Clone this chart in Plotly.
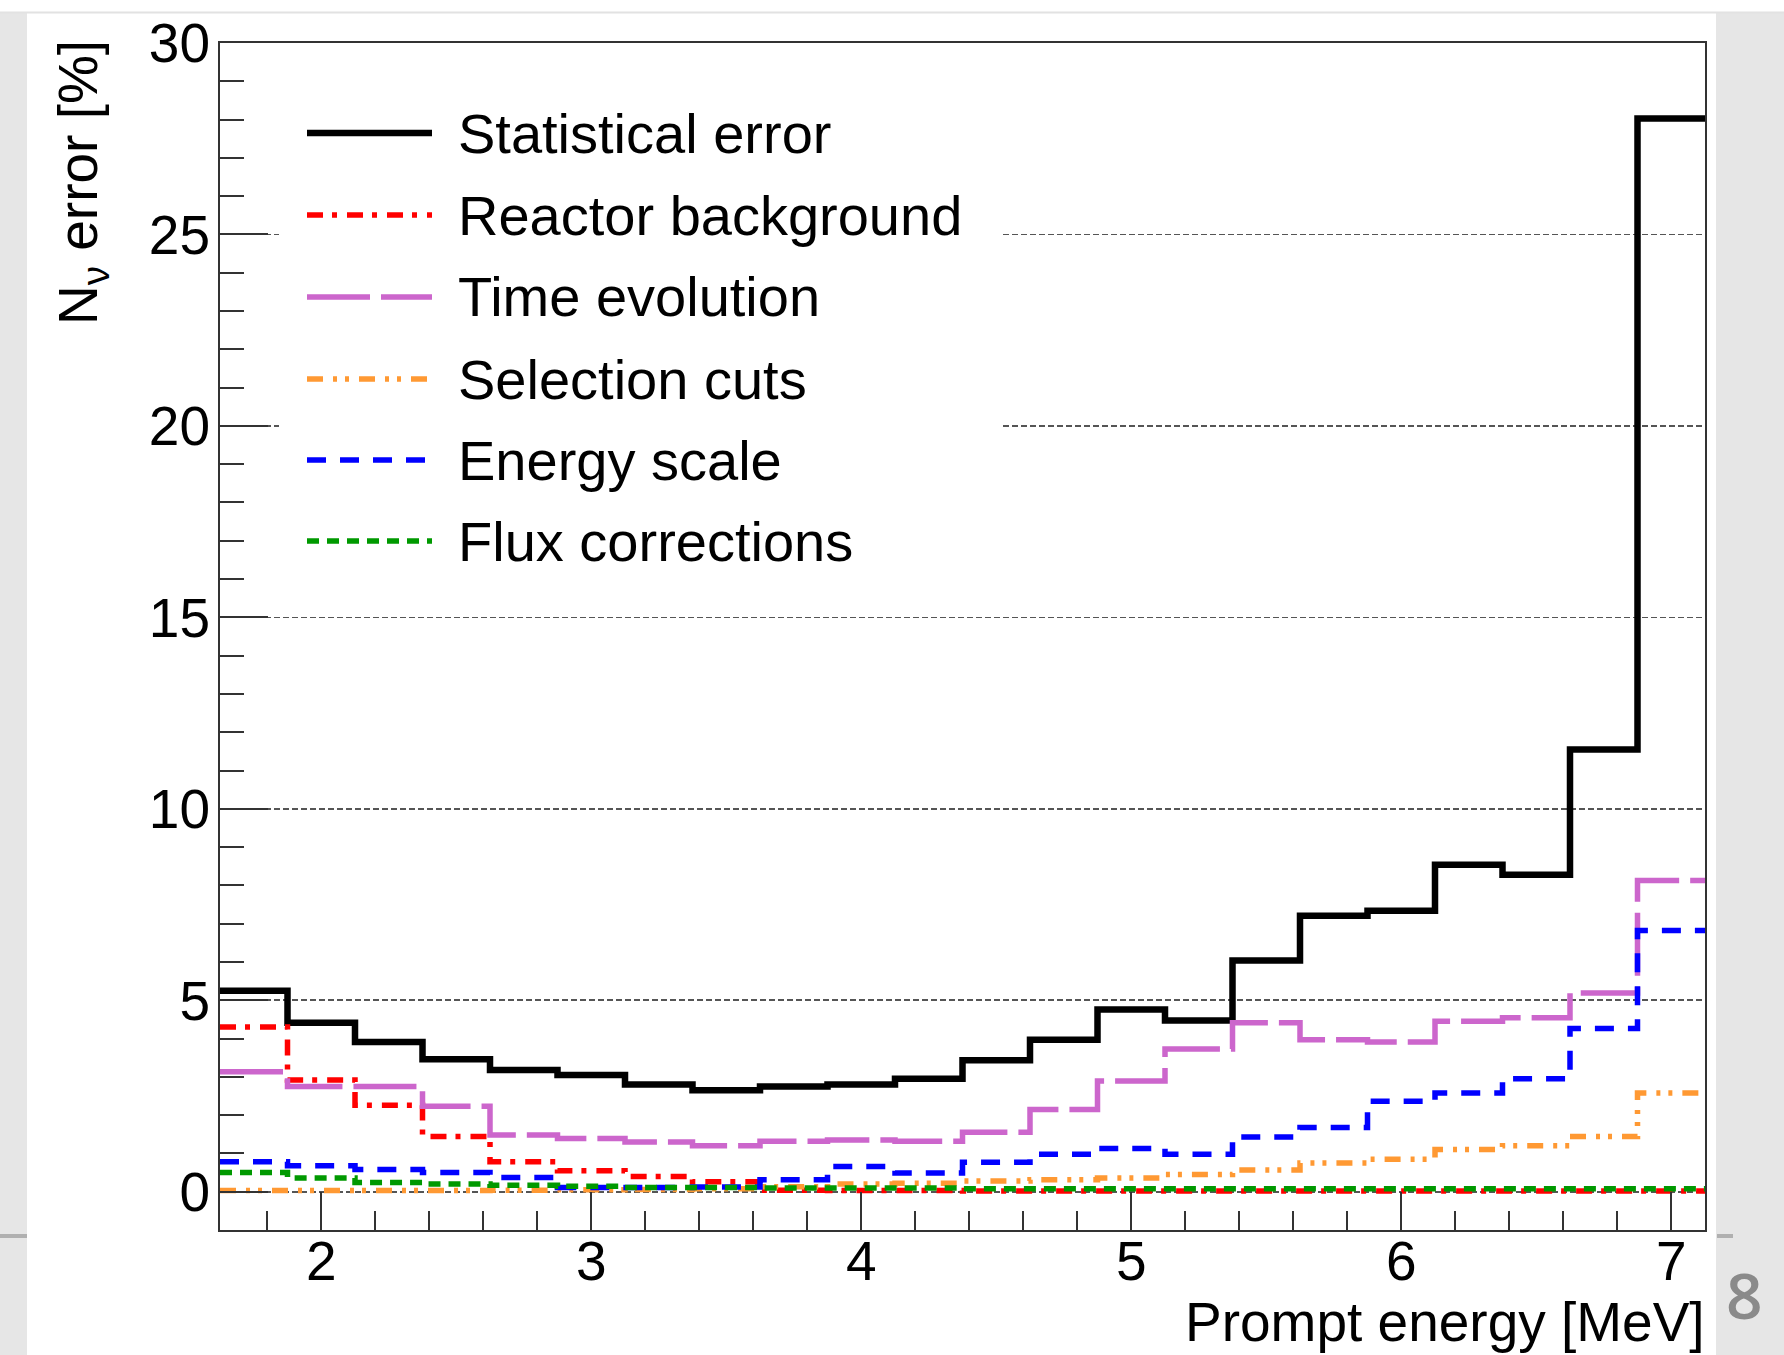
import plotly.graph_objects as go

# ---------------- data ----------------
energy_edges = [1.625, 1.875, 2.125, 2.375, 2.625, 2.875, 3.125, 3.375, 3.625, 3.875, 4.125, 4.375,
                4.625, 4.875, 5.125, 5.375, 5.625, 5.875, 6.125, 6.375, 6.625, 6.875, 7.125]

statistical_error = [5.25, 4.41, 3.91, 3.46, 3.18, 3.05, 2.80, 2.65, 2.75, 2.80, 2.95, 3.43,
                     3.97, 4.76, 4.47, 6.04, 7.21, 7.34, 8.54, 8.28, 11.55, 28.03]
reactor_background = [4.30, 2.92, 2.26, 1.44, 0.78, 0.55, 0.40, 0.26, 0.04, 0.03, 0.03, 0.02,
                      0.02, 0.02, 0.02, 0.02, 0.02, 0.02, 0.02, 0.02, 0.02, 0.02]
time_evolution = [3.13, 2.75, 2.75, 2.23, 1.48, 1.39, 1.30, 1.20, 1.32, 1.35, 1.32, 1.55,
                  2.15, 2.89, 3.73, 4.41, 3.97, 3.91, 4.45, 4.54, 5.19, 8.13]
selection_cuts = [0.03, 0.03, 0.03, 0.03, 0.04, 0.05, 0.06, 0.08, 0.13, 0.20, 0.22, 0.28,
                  0.31, 0.36, 0.45, 0.57, 0.75, 0.85, 1.10, 1.20, 1.44, 2.58]
energy_scale = [0.78, 0.68, 0.58, 0.50, 0.37, 0.11, 0.11, 0.12, 0.31, 0.66, 0.49, 0.77,
                0.98, 1.13, 0.98, 1.43, 1.68, 2.36, 2.58, 2.95, 4.26, 6.82]
flux_corrections = [0.50, 0.36, 0.24, 0.20, 0.17, 0.14, 0.11, 0.11, 0.10, 0.10, 0.10, 0.08,
                    0.08, 0.08, 0.08, 0.08, 0.08, 0.08, 0.08, 0.08, 0.08, 0.08]

series_names = ["Statistical error", "Reactor background", "Time evolution",
                "Selection cuts", "Energy scale", "Flux corrections"]
series_values = [statistical_error, reactor_background, time_evolution,
                 selection_cuts, energy_scale, flux_corrections]

x_tick_values = [2, 3, 4, 5, 6, 7]
y_tick_values = [0, 5, 10, 15, 20, 25, 30]

x_title = "Prompt energy [MeV]"
y_title = "N<sub>ν</sub> error [%]"
page_number = "8"

# ---------------- styles ----------------
series_styles = [
    dict(color="#000000", width=6.5, dash="solid"),
    dict(color="#ff0000", width=5.5, dash="16px,9px,5px,10px"),
    dict(color="#cc66cc", width=5.5, dash="63px,11px"),
    dict(color="#ff9933", width=5.5, dash="16px,10px,4px,8px,4px,10px"),
    dict(color="#0000ff", width=5.5, dash="19px,14px"),
    dict(color="#009900", width=5.5, dash="12px,8px"),
]

W, H = 1784, 1355
L, R, T, B = 220, 1705, 43, 1230


def px_x(p):
    return (p - L) / (R - L)


def px_y(p):
    return (B - p) / (B - T)


FONT = "Liberation Sans, Arial, Helvetica, sans-serif"

fig = go.Figure()

for name, vals, st in zip(series_names, series_values, series_styles):
    fig.add_trace(go.Scatter(
        x=energy_edges,
        y=list(vals) + [vals[-1]],
        mode="lines",
        line=dict(color=st["color"], width=st["width"], dash=st["dash"], shape="hv"),
        name=name,
        showlegend=False,
        hoverinfo="skip",
    ))

axis_color = "#333333"
fig.update_xaxes(
    range=[energy_edges[0], energy_edges[-1]],
    tickmode="array", tickvals=x_tick_values,
    ticks="inside", ticklen=38, tickwidth=2, tickcolor=axis_color,
    minor=dict(dtick=0.2, tick0=0, ticks="inside", ticklen=19, tickwidth=2,
               tickcolor=axis_color, showgrid=False),
    showline=True, linecolor=axis_color, linewidth=2, mirror=True,
    showgrid=False, zeroline=False,
    tickfont=dict(family=FONT, size=55, color="black"),
    ticklabelstandoff=-18,
    automargin=False,
)
fig.update_yaxes(
    range=[-1, 30],
    tickmode="array", tickvals=y_tick_values,
    ticks="inside", ticklen=48, tickwidth=2, tickcolor=axis_color,
    minor=dict(dtick=1, tick0=0, ticks="inside", ticklen=24, tickwidth=2,
               tickcolor=axis_color, showgrid=False),
    showline=True, linecolor=axis_color, linewidth=2, mirror=True,
    showgrid=True, gridcolor="#555555", gridwidth=1.6, griddash="6px,3px",
    zeroline=False,
    tickfont=dict(family=FONT, size=55, color="black"),
    ticklabelstandoff=-3,
    automargin=False,
)

shapes = []
# page decoration: side strips, top line and small separators
shapes.append(dict(type="rect", xref="paper", yref="paper",
                   x0=px_x(0), x1=px_x(27), y0=px_y(H), y1=px_y(13),
                   fillcolor="#e6e6e6", line=dict(width=0), layer="below"))
shapes.append(dict(type="rect", xref="paper", yref="paper",
                   x0=px_x(1716), x1=px_x(W), y0=px_y(H), y1=px_y(13),
                   fillcolor="#e6e6e6", line=dict(width=0), layer="below"))
shapes.append(dict(type="line", xref="paper", yref="paper",
                   x0=px_x(0), x1=px_x(W), y0=px_y(12.5), y1=px_y(12.5),
                   line=dict(color="#e2e2e2", width=2), layer="below"))
shapes.append(dict(type="line", xref="paper", yref="paper",
                   x0=px_x(0), x1=px_x(27), y0=px_y(1236), y1=px_y(1236),
                   line=dict(color="#b0b0b0", width=4), layer="below"))
shapes.append(dict(type="line", xref="paper", yref="paper",
                   x0=px_x(1717), x1=px_x(1733), y0=px_y(1236), y1=px_y(1236),
                   line=dict(color="#b0b0b0", width=4), layer="below"))

# legend box (white, hides grid lines)
shapes.append(dict(type="rect", xref="paper", yref="paper",
                   x0=px_x(279), x1=px_x(1001), y0=px_y(595), y1=px_y(52),
                   fillcolor="white", line=dict(width=0), layer="above"))

legend_rows = [133, 215, 297, 379, 460, 541]
annotations = []
for name, st, row in zip(series_names, series_styles, legend_rows):
    shapes.append(dict(type="line", xref="paper", yref="paper",
                       x0=px_x(307), x1=px_x(432), y0=px_y(row), y1=px_y(row),
                       line=dict(color=st["color"], width=st["width"], dash=st["dash"]),
                       layer="above"))
    annotations.append(dict(text=name, xref="paper", yref="paper",
                            x=px_x(456), y=px_y(row), xanchor="left", yanchor="middle",
                            showarrow=False, font=dict(family=FONT, size=56, color="black")))

annotations.append(dict(text=x_title, xref="paper", yref="paper",
                        x=px_x(1707), y=px_y(1322), xanchor="right", yanchor="middle",
                        showarrow=False, font=dict(family=FONT, size=55, color="black")))
annotations.append(dict(text=y_title, xref="paper", yref="paper", textangle=-90,
                        x=px_x(81.5), y=px_y(38), xanchor="center", yanchor="top",
                        showarrow=False, font=dict(family=FONT, size=55, color="black")))
annotations.append(dict(text=page_number, xref="paper", yref="paper",
                        x=px_x(1744), y=px_y(1294), xanchor="center", yanchor="middle",
                        showarrow=False, font=dict(family="Open Sans, sans-serif", size=64,
                                                   color="#8a8a8a", weight=600)))

fig.update_layout(
    width=W, height=H, autosize=False,
    margin=dict(l=L, r=W - R, t=T, b=H - B, pad=0),
    paper_bgcolor="white", plot_bgcolor="white",
    font=dict(family=FONT, size=55, color="black"),
    showlegend=False,
    shapes=shapes,
    annotations=annotations,
)

fig.write_html(
    "out.html",
    config={"displayModeBar": False, "staticPlot": True},
    post_script="document.body.style.margin='0';document.body.style.padding='0';"
                "document.body.style.overflow='hidden';",
)
